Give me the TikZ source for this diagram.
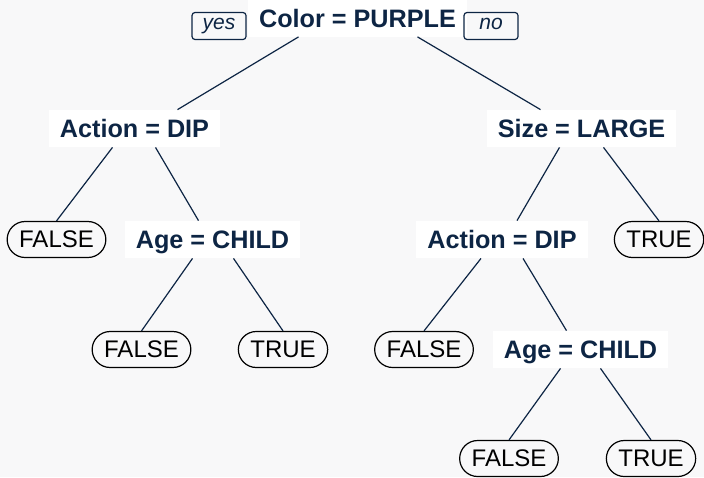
\documentclass[tikz,border=0pt]{standalone}
\usepackage{fontspec}
\setmainfont{Liberation Sans}
\usepackage{tikz}
\definecolor{navy}{RGB}{13,37,68}
\definecolor{bg}{RGB}{248,248,249}

\begin{document}
\begin{tikzpicture}[x=0.5pt, y=-0.5pt,
    cond/.style={fill=white, text=navy, font=\fontsize{12.6}{14}\selectfont\bfseries, inner xsep=5.5pt, inner ysep=4.75pt, text height=9pt, text depth=0pt},
    leaf/.style={draw=black, line width=0.6pt, rounded corners=9pt, text=black, font=\fontsize{12}{14}\selectfont, inner xsep=6pt, inner ysep=4.8pt, text height=8.4pt, text depth=0pt},
    tag/.style={draw=navy, line width=0.6pt, rounded corners=1.5pt, text=navy, font=\fontsize{10.5}{12}\selectfont\itshape, minimum width=27pt, inner xsep=0pt, inner ysep=3pt, text height=5.5pt, text depth=2pt},
    branch/.style={draw=navy, line width=0.6pt}]
    \useasboundingbox[fill=bg] (0,0) rectangle (704,477);

    \node[cond] (color)  at (357.5, 18.0)  {Color = PURPLE};
    \node[tag]  (yes)    at (219.0, 26.0)  {yes};
    \node[tag]  (no)     at (491.0, 26.0)  {no};

    \node[cond] (act_l)  at (134.5, 128.5) {Action = DIP};
    \node[cond] (size)   at (581.5, 128.5) {Size = LARGE};

    \node[leaf] (false_l)  at (56.5, 239.5)  {FALSE};
    \node[cond] (age_l)    at (212.5, 239.5) {Age = CHILD};
    \node[cond] (act_r)    at (502.0, 239.5) {Action = DIP};
    \node[leaf] (true_r)   at (659.0, 239.5) {TRUE};

    \node[leaf] (false_ll) at (141.5, 349.5) {FALSE};
    \node[leaf] (true_ll)  at (283.0, 349.5) {TRUE};
    \node[leaf] (false_rl) at (424.0, 349.5) {FALSE};
    \node[cond] (age_r)    at (580.5, 349.5) {Age = CHILD};

    \node[leaf] (false_rr) at (509.0, 458.5) {FALSE};
    \node[leaf] (true_rr)  at (651.0, 458.5) {TRUE};

    % branches, left one is "yes"
    \draw[branch] ([xshift=-29.5pt]color.south) -- ([xshift=21.5pt]act_l.north);
    \draw[branch] ([xshift=30pt]color.south)    -- ([xshift=-20.5pt]size.north);

    \draw[branch] ([xshift=-11pt]act_l.south)   -- (false_l.north);
    \draw[branch] ([xshift=10.5pt]act_l.south)  -- ([xshift=-7pt]age_l.north);

    \draw[branch] ([xshift=-10pt]age_l.south)   -- (false_ll.north);
    \draw[branch] ([xshift=10.5pt]age_l.south)  -- (true_ll.north);

    \draw[branch] ([xshift=-11pt]size.south)    -- ([xshift=7.5pt]act_r.north);
    \draw[branch] ([xshift=11pt]size.south)     -- (true_r.north);

    \draw[branch] ([xshift=-10.5pt]act_r.south) -- (false_rl.north);
    \draw[branch] ([xshift=10.5pt]act_r.south)  -- ([xshift=-7pt]age_r.north);

    \draw[branch] ([xshift=-10pt]age_r.south)   -- (false_rr.north);
    \draw[branch] ([xshift=10pt]age_r.south)    -- (true_rr.north);
\end{tikzpicture}
\end{document}
